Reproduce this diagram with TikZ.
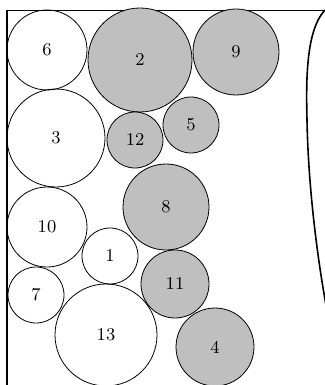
\documentclass[tikz,border=0pt]{standalone}
\usepackage{tikz}

\begin{document}
\begin{tikzpicture}[x=.5pt,y=-.5pt,
  disc/.style={circle,draw,thin,inner sep=0pt,font=\small},
  full/.style={disc,fill=gray!50}]
\useasboundingbox (0,0) rectangle (325,385);
\clip (0,0) rectangle (325,385);
% container
\draw[thick] (7,385)--(7,10);
\draw[thin] (7,10)--(325,10);
\draw[thick] (325,10) .. controls (306,30) and (306,80) .. (307,120) .. controls (308,180) and (316,250) .. (326,305);
% packed circles
\node[disc,minimum size=40pt] (c6) at (47,50) {6};
\node[full,minimum size=52pt] (c2) at (140,60) {2};
\node[full,minimum size=43pt] (c9) at (236,52) {9};
\node[disc,minimum size=49pt] (c3) at (56,138) {3};
\node[full,minimum size=28pt] (c12) at (135,140) {12};
\node[full,minimum size=28pt] (c5) at (191,125) {5};
\node[full,minimum size=43pt] (c8) at (166,207) {8};
\node[disc,minimum size=40pt] (c10) at (47,227) {10};
\node[disc,minimum size=28pt] (c1) at (110,256) {1};
\node[disc,minimum size=28pt] (c7) at (36,295) {7};
\node[full,minimum size=34pt] (c11) at (175,284) {11};
\node[disc,minimum size=51pt] (c13) at (106,335) {13};
\node[full,minimum size=39pt] (c4) at (215,347) {4};
\end{tikzpicture}
\end{document}
